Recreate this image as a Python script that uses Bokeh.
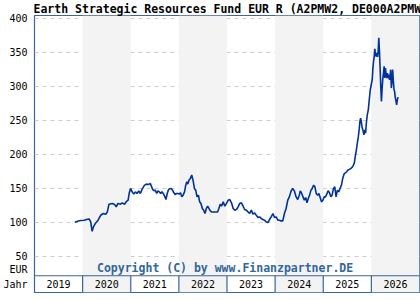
from bokeh.plotting import figure
from bokeh.models import Range1d, FixedTicker
from bokeh.core.properties import value
from bokeh.embed import file_html
from bokeh.resources import INLINE

title_text = "Earth Strategic Resources Fund EUR R (A2PMW2, DE000A2PMW2"
copyright_text = "Copyright (C) by www.Finanzpartner.DE"

years = ["2019", "2020", "2021", "2022", "2023", "2024", "2025", "2026"]
year_start = [2019, 2020, 2021, 2022, 2023, 2024, 2025, 2026]
shaded = [False, True, False, True, False, True, False, True]

y_ticks = [50, 100, 150, 200, 250, 300, 350, 400]

# decimal year / price (EUR)
t = [2019.838, 2019.894, 2019.962, 2020.032, 2020.100, 2020.135, 2020.168, 2020.197,
     2020.224, 2020.272, 2020.321, 2020.375, 2020.430, 2020.478, 2020.513, 2020.548,
     2020.616, 2020.664, 2020.699, 2020.734, 2020.787, 2020.822, 2020.870, 2020.911,
     2020.946, 2020.967, 2020.994, 2021.029, 2021.064, 2021.097, 2021.132, 2021.167,
     2021.200, 2021.235, 2021.283, 2021.324, 2021.373, 2021.407, 2021.428, 2021.456,
     2021.483, 2021.510, 2021.539, 2021.566, 2021.592, 2021.621, 2021.648, 2021.675,
     2021.704, 2021.731, 2021.758, 2021.786, 2021.813, 2021.840, 2021.869, 2021.896,
     2021.923, 2021.951, 2021.978, 2022.005, 2022.034, 2022.061, 2022.088, 2022.117,
     2022.143, 2022.164, 2022.185, 2022.212, 2022.240, 2022.267, 2022.294, 2022.323,
     2022.350, 2022.377, 2022.406, 2022.432, 2022.459, 2022.488, 2022.515, 2022.542,
     2022.571, 2022.598, 2022.624, 2022.653, 2022.680, 2022.721, 2022.763, 2022.804,
     2022.831, 2022.860, 2022.886, 2022.922, 2022.955, 2022.990, 2023.025, 2023.058,
     2023.093, 2023.128, 2023.161, 2023.196, 2023.231, 2023.264, 2023.299, 2023.334,
     2023.367, 2023.402, 2023.437, 2023.471, 2023.506, 2023.541, 2023.574, 2023.609,
     2023.644, 2023.677, 2023.712, 2023.747, 2023.780, 2023.815, 2023.850, 2023.883,
     2023.918, 2023.954, 2023.987, 2024.022, 2024.057, 2024.090, 2024.125, 2024.160,
     2024.193, 2024.228, 2024.263, 2024.296, 2024.331, 2024.366, 2024.399, 2024.434,
     2024.469, 2024.503, 2024.523, 2024.552, 2024.579, 2024.606, 2024.635, 2024.662,
     2024.688, 2024.717, 2024.744, 2024.771, 2024.800, 2024.827, 2024.854, 2024.882,
     2024.909, 2024.936, 2024.965, 2024.992, 2025.019, 2025.047, 2025.074, 2025.101,
     2025.130, 2025.157, 2025.184, 2025.213, 2025.240, 2025.266, 2025.295, 2025.322,
     2025.349, 2025.378, 2025.405, 2025.432, 2025.461, 2025.487, 2025.514, 2025.543,
     2025.576, 2025.610, 2025.644, 2025.665, 2025.690, 2025.708, 2025.729, 2025.749,
     2025.762, 2025.776, 2025.791, 2025.804, 2025.824, 2025.845, 2025.866, 2025.880,
     2025.895, 2025.915, 2025.936, 2025.956, 2025.977, 2025.997, 2026.018, 2026.030,
     2026.045, 2026.059, 2026.071, 2026.086, 2026.100, 2026.112, 2026.127, 2026.141,
     2026.154, 2026.168, 2026.183, 2026.195, 2026.209, 2026.224, 2026.236, 2026.251,
     2026.265, 2026.277, 2026.292, 2026.306, 2026.318, 2026.333, 2026.347, 2026.360,
     2026.374, 2026.389, 2026.401, 2026.415, 2026.430, 2026.442, 2026.457, 2026.471,
     2026.483, 2026.498, 2026.513, 2026.525, 2026.540, 2026.554]
price = [100.3, 101.8, 102.8, 103.3, 104.8, 105.2, 100.8, 87.0,
         93.4, 99.3, 103.3, 110.6, 113.2, 112.1, 115.5, 126.9,
         128.0, 126.5, 122.9, 128.0, 126.9, 128.9, 126.9, 130.9,
         132.8, 142.7, 150.1, 145.1, 141.7, 145.1, 142.7, 146.6,
         142.7, 148.7, 154.6, 156.5, 156.0, 157.5, 153.5, 148.7,
         146.6, 147.6, 142.7, 146.6, 145.1, 142.7, 145.1, 142.7,
         138.8, 133.8, 142.7, 148.7, 149.6, 150.1, 147.6, 143.7,
         141.2, 142.7, 142.7, 141.7, 143.7, 137.7, 140.2, 145.1,
         155.0, 159.9, 156.5, 162.4, 164.9, 169.8, 162.4, 150.1,
         147.6, 137.7, 140.2, 130.3, 128.0, 120.6, 118.1, 113.2,
         120.6, 124.0, 120.6, 117.0, 115.5, 115.5, 115.5, 115.5,
         120.6, 126.9, 124.0, 130.3, 124.0, 128.0, 132.8, 133.8,
         128.9, 120.6, 118.1, 119.1, 122.9, 128.0, 128.9, 124.0,
         119.1, 118.1, 115.5, 113.2, 118.1, 112.1, 114.1, 110.6,
         107.3, 108.2, 105.8, 104.3, 103.3, 100.8, 99.8, 104.3,
         108.2, 113.2, 107.3, 108.2, 103.3, 103.3, 102.3, 102.3,
         113.2, 120.6, 132.8, 137.7, 146.0, 150.1, 146.6, 138.0,
         133.8, 140.2, 146.6, 142.7, 137.7, 132.8, 136.7, 128.9,
         135.3, 140.2, 147.6, 150.1, 155.0, 152.5, 142.7, 140.2,
         142.7, 136.7, 130.3, 132.8, 137.7, 137.7, 141.7, 146.6,
         143.7, 137.7, 140.2, 150.1, 152.5, 137.7, 147.6, 145.1,
         150.1, 155.0, 164.9, 171.3, 173.2, 174.7, 177.2, 178.2,
         179.7, 182.1, 187.1, 197.0, 207.8, 216.7, 226.4, 238.9,
         248.6, 253.6, 248.6, 241.2, 236.3, 229.0, 236.3, 231.5,
         246.2, 258.5, 265.9, 280.7, 295.5, 302.9, 310.3, 325.1,
         337.3, 344.7, 355.7, 347.2, 344.7, 349.7, 343.8, 352.1,
         371.9, 352.1, 325.1, 300.4, 278.2, 298.0, 310.3, 320.2,
         330.0, 312.8, 327.6, 317.7, 312.8, 320.2, 312.8, 317.7,
         310.3, 315.2, 325.1, 298.0, 310.3, 325.1, 307.8, 295.5,
         293.0, 283.2, 278.2, 273.3, 280.7, 284.7]

Y_BOTTOM = -3.2
Y_TOP = 404.9
BAND_TOP = 21.5
BAND_MID = 9
EUR_POS = 31

BORDER = "#3a6699"
SHADE = "#f3f3f3"
MONO = "DejaVu Sans Mono"

p = figure(width=420, height=300, output_backend="svg", toolbar_location=None,
           x_range=Range1d(2019.0, 2027.0), y_range=Range1d(Y_BOTTOM, Y_TOP),
           min_border_left=32, min_border_right=1, min_border_top=0, min_border_bottom=8,
           title=title_text)
p.title.text_font = MONO
p.title.text_font_style = "bold"
p.title.text_font_size = "11.5px"
p.title.text_color = "black"
p.title.align = "left"
p.title.offset = -1
p.title.standoff = -1
p.background_fill_color = "white"
p.border_fill_color = "white"
p.outline_line_color = BORDER
p.outline_line_width = 1.2

# shaded year columns
sh_l = [year_start[i] for i in range(len(years)) if shaded[i]]
sh_r = [year_start[i] + 1 for i in range(len(years)) if shaded[i]]
p.quad(left=sh_l, right=sh_r, bottom=Y_BOTTOM, top=Y_TOP, fill_color=SHADE, line_color=None)

# grid
p.xgrid.visible = False
p.ygrid.ticker = FixedTicker(ticks=y_ticks)
p.ygrid.grid_line_color = "#cccccc"
p.ygrid.grid_line_dash = "4 4"
p.ygrid.grid_line_width = 1
p.ygrid.level = "underlay"

# year band lines
p.segment(x0=[2019.0], x1=[2027.0], y0=[BAND_TOP], y1=[BAND_TOP], line_color=BORDER, line_width=1.2)
p.segment(x0=year_start[1:], x1=year_start[1:], y0=Y_BOTTOM, y1=BAND_TOP, line_color=BORDER, line_width=1.2)
p.text(x=[y + 0.5 for y in year_start], y=BAND_MID, text=years, text_font=value(MONO),
       text_font_size="10px", text_align="center", text_baseline="middle", text_color="black")

# price line
p.line(t, price, line_color="#003399", line_width=1.6)

# copyright
p.text(x=[2022.96], y=[33.5], text=[copyright_text], text_font=value(MONO), text_font_style="bold",
       text_font_size="11.5px", text_align="center", text_baseline="middle", text_color="#336699")

# y axis
ax = p.yaxis[0]
ax.ticker = FixedTicker(ticks=[BAND_MID, EUR_POS] + y_ticks)
ax.major_label_overrides = {BAND_MID: "Jahr", EUR_POS: "EUR"}
ax.axis_line_color = None
ax.major_tick_line_color = None
ax.minor_tick_line_color = None
ax.major_tick_out = 0
ax.major_tick_in = 0
ax.major_label_standoff = 7
ax.major_label_text_font = MONO
ax.major_label_text_font_size = "10px"
ax.major_label_text_color = "black"
p.xaxis.visible = False

open("out.html", "w").write(file_html(p, INLINE))
